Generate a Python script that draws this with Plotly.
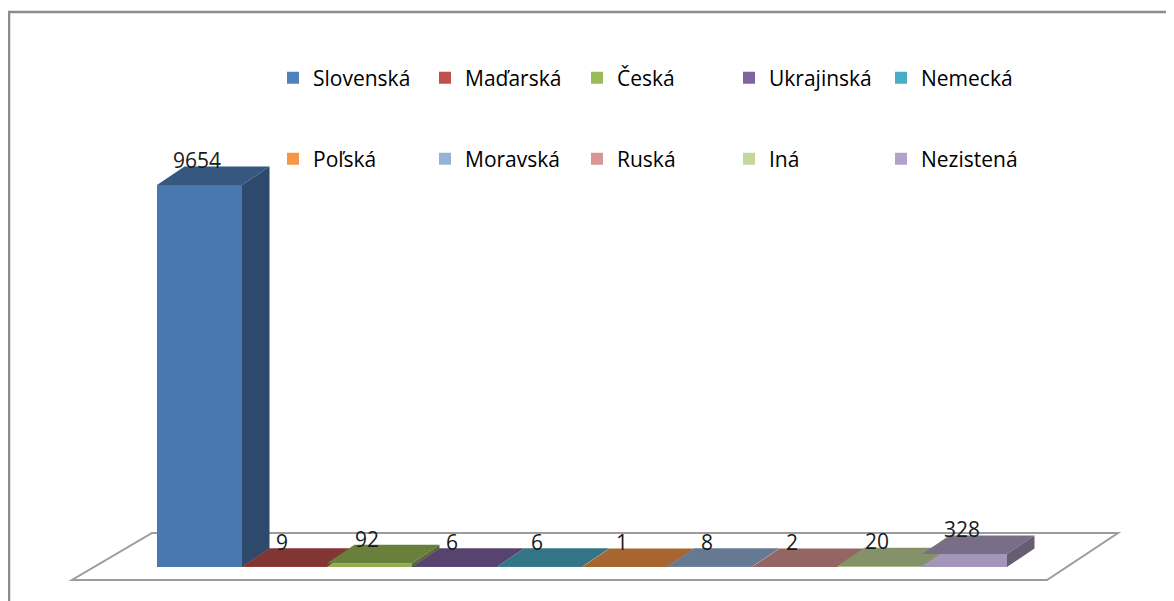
import plotly.graph_objects as go

# ---------------- data ----------------
categories = ["Slovenská", "Maďarská", "Česká", "Ukrajinská", "Nemecká",
              "Poľská", "Moravská", "Ruská", "Iná", "Nezistená"]
values = [9654, 9, 92, 6, 6, 1, 8, 2, 20, 328]
base_colors = ["#4F81BD", "#C0504D", "#9BBB59", "#8064A2", "#4BACC6",
               "#F79646", "#95B3D7", "#D99694", "#C3D69B", "#B2A2C7"]

# ---------------- geometry (page-pixel layout of the 3-D look) ----------------
PAGE_W, PAGE_H = 1174, 601
OFF = 8                      # default body margin of the html page
W, H = PAGE_W - OFF, PAGE_H - OFF
PX_PER_CAT = 85.0            # width of one bar in px
X_LEFT_PX = 157.0            # left edge of first bar (page px)
BASE_PX = 567.0              # page row of value 0 (front)
TOP_PX = 185.0               # page row of the maximum value
PX_PER_VAL = (BASE_PX - TOP_PX) / max(values)
DEPTH_DX_PX, DEPTH_DY_PX = 27.5, 18.5
LABEL_DROP_PX = 7


def ux(px):   # page column -> x data
    return (px - X_LEFT_PX) / PX_PER_CAT - 0.5


def vy(py):   # page row -> y data
    return (BASE_PX - py) / PX_PER_VAL


def paper_x(px):
    return (px - OFF) / W


def paper_y(py):
    return 1 - (py - OFF) / H


du = DEPTH_DX_PX / PX_PER_CAT
dv = DEPTH_DY_PX / PX_PER_VAL


def shade(hexc, f):
    h = hexc.lstrip("#")
    r, g, b = (int(h[i:i + 2], 16) for i in (0, 2, 4))
    return "#%02X%02X%02X" % (min(255, int(r * f)), min(255, int(g * f)), min(255, int(b * f)))


front_colors = [shade(c, 0.93) for c in base_colors]
top_colors = [shade(c, 0.68) for c in base_colors]
side_colors = [shade(c, 0.58) for c in base_colors]

xs = list(range(len(categories)))

fig = go.Figure()

# front faces
fig.add_trace(go.Bar(x=xs, y=values, width=1, marker=dict(color=front_colors, line=dict(width=0)),
                     showlegend=False, hoverinfo="skip"))

# top + side faces
for i, v in enumerate(values):
    fig.add_trace(go.Scatter(
        x=[i - 0.5, i + 0.5, i + 0.5 + du, i - 0.5 + du, i - 0.5],
        y=[v, v, v + dv, v + dv, v],
        fill="toself", fillcolor=top_colors[i], mode="lines", line=dict(width=0),
        showlegend=False, hoverinfo="skip"))
    fig.add_trace(go.Scatter(
        x=[i + 0.5, i + 0.5 + du, i + 0.5 + du, i + 0.5, i + 0.5],
        y=[0, dv, v + dv, v, 0],
        fill="toself", fillcolor=side_colors[i], mode="lines", line=dict(width=0),
        showlegend=False, hoverinfo="skip"))

# value labels
fig.add_trace(go.Scatter(
    x=[i - 0.03 for i in xs], y=[v + dv - LABEL_DROP_PX / PX_PER_VAL for v in values], mode="text",
    text=[str(v) for v in values], textposition="top center",
    textfont=dict(family="Open Sans", size=21, color="#1A1A1A"),
    showlegend=False, hoverinfo="skip"))

# legend entries
for i, (name, col) in enumerate(zip(categories, base_colors)):
    fig.add_trace(go.Bar(x=[None], y=[None], name=name, marker=dict(color=col, line=dict(width=0)),
                         legend="legend" if i < 5 else "legend2", hoverinfo="skip"))

# floor
fl = [(72, 580), (1047, 580), (1118, 533), (152, 533)]
floor_path = "M " + " L ".join(f"{ux(px)},{vy(py)}" for px, py in fl) + " Z"

legend_common = dict(orientation="h", xanchor="left", yanchor="middle",
                     entrywidth=107, entrywidthmode="pixels",
                     font=dict(family="Open Sans", size=21, color="#000000"),
                     bgcolor="rgba(0,0,0,0)", borderwidth=0,
                     itemclick=False, itemdoubleclick=False)

fig.update_layout(
    width=W, height=H,
    margin=dict(l=0, r=0, t=0, b=0),
    paper_bgcolor="white", plot_bgcolor="white",
    barmode="overlay",
    xaxis=dict(range=[ux(OFF), ux(PAGE_W)], visible=False, fixedrange=True),
    yaxis=dict(range=[vy(PAGE_H), vy(OFF)], visible=False, fixedrange=True),
    legend=dict(x=paper_x(273), y=paper_y(78), **legend_common),
    legend2=dict(x=paper_x(273), y=paper_y(159), **legend_common),
    shapes=[
        dict(type="path", xref="x", yref="y", path=floor_path, layer="below",
             fillcolor="white", line=dict(color="#9C9C9C", width=2)),
        dict(type="path", xref="paper", yref="paper",
             path=f"M {paper_x(9)},0 L {paper_x(9)},{paper_y(12)} L 1,{paper_y(12)}",
             line=dict(color="#8C8C8C", width=2.5)),
    ],
    showlegend=True,
)

fig.write_html("out.html")
